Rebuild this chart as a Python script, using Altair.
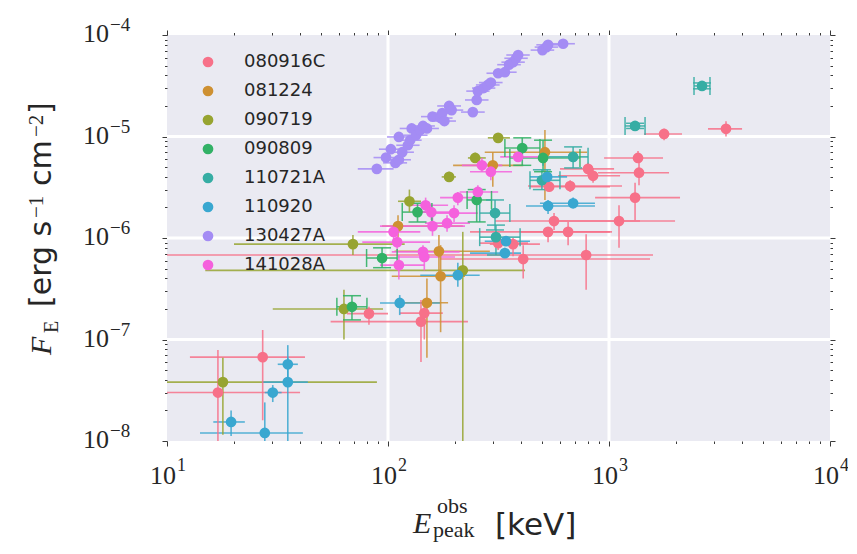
import altair as alt
import pandas as pd

series_names = ["080916C", "081224", "090719", "090809", "110721A", "110920", "130427A", "141028A"]
series_colors = ["#f77189", "#ce9032", "#97a431", "#32b166", "#36ada4", "#39a7d0", "#a48cf4", "#f561dd"]
capped_series = ["090809", "110721A"]

# (E_peak, E_lo, E_hi, F_E, F_lo, F_hi)  [keV], [erg s^-1 cm^-2]
grb_080916C = [
    (1775, 1441, 2140, 1.06e-5, 9.2e-6, 1.19e-5),
    (3384, 2805, 4000, 1.19e-5, 1.0e-5, 1.41e-5),
    (1353, 950, 1756, 6.15e-6, 5.5e-6, 7.2e-6),
    (1367, 892, 1869, 4.4e-6, 3.3e-6, 5.5e-6),
    (1312, 865, 2096, 2.5e-6, 1.5e-6, 3.5e-6),
    (1110, 588, 1990, 1.47e-6, 8.0e-7, 2.1e-6),
    (804, 600, 1054, 4.8e-6, 4.1e-6, 5.5e-6),
    (847, 588, 1122, 4.1e-6, 3.5e-6, 4.9e-6),
    (667, 430, 1145, 3.25e-6, 2.84e-6, 3.7e-6),
    (536, 439, 1010, 3.2e-6, 2.84e-6, 3.6e-6),
    (564, 305, 1381, 1.47e-6, 1.2e-6, 1.76e-6),
    (530, 235, 1010, 1.15e-6, 9.1e-7, 1.26e-6),
    (653, 396, 1032, 1.15e-6, 8.5e-7, 1.44e-6),
    (788, 9, 1582, 6.8e-7, 3.1e-7, 1.09e-6),
    (409, 172, 1533, 6.2e-7, 4.0e-7, 8.5e-7),
    (368, 289, 487, 8.7e-7, 6.6e-7, 1.0e-6),
    (315, 260, 430, 8.9e-7, 7.6e-7, 1.05e-6),
    (27.1, 12.7, 42.1, 6.7e-8, 1.6e-8, 1.24e-7),
    (17.0, 9, 40, 3.0e-8, 5e-9, 7.9e-8),
    (82, 65.2, 100, 1.8e-7, 1.4e-7, 2.1e-7),
    (141, 55, 230, 1.5e-7, 6.0e-8, 2.45e-7),
    (146, 113, 177, 1.82e-7, 1.0e-7, 2.29e-7),
]
grb_081224 = [
    (513, 274, 796, 7.0e-6, 2.37e-6, 1.16e-5),
    (298, 197, 409, 5.2e-6, 3.2e-6, 7.0e-6),
    (111, 94, 218, 1.31e-6, 9.5e-7, 1.68e-6),
    (170, 107, 289, 7.4e-7, 4.3e-7, 1.07e-6),
    (173, 104, 223, 4.2e-7, 1.18e-7, 8.5e-7),
    (150, 113, 187, 2.3e-7, 6.6e-8, 4.0e-7),
]
grb_090719 = [
    (315, 283, 356, 9.7e-6, 9.1e-6, 1.03e-5),
    (248, 230, 277, 6.15e-6, 5.5e-6, 6.9e-6),
    (189, 175, 203, 4.0e-6, 3.6e-6, 4.5e-6),
    (125, 111, 141, 2.3e-6, 1.8e-6, 3.0e-6),
    (69.4, 20.1, 119, 8.7e-7, 6.8e-7, 1.07e-6),
    (218, 14.9, 417, 4.8e-7, 5e-9, 1.15e-6),
    (63.2, 30.1, 94.9, 2.0e-7, 1.0e-7, 3.1e-7),
    (17.9, 8, 89.1, 3.8e-8, 1.15e-8, 6.6e-8),
]
grb_090809 = [
    (405, 338, 487, 7.7e-6, 5.2e-6, 9.7e-6),
    (503, 356, 739, 6.15e-6, 4.5e-6, 9.2e-6),
    (136, 116, 158, 1.8e-6, 1.44e-6, 2.2e-6),
    (252, 228, 294, 2.37e-6, 1.44e-6, 3.0e-6),
    (94, 80, 110, 6.35e-7, 5.1e-7, 8.0e-7),
    (68.7, 58.7, 80.3, 2.1e-7, 1.56e-7, 2.7e-7),
]
grb_110721A = [
    (2636, 2425, 2864, 3.15e-5, 2.95e-5, 3.37e-5),
    (1312, 1182, 1456, 1.27e-5, 1.2e-5, 1.35e-5),
    (688, 503, 804, 6.3e-6, 4.9e-6, 7.9e-6),
    (497, 439, 600, 3.7e-6, 3.0e-6, 4.7e-6),
    (305, 260, 356, 1.76e-6, 1.2e-6, 2.37e-6),
    (308, 260, 396, 1.02e-6, 6.8e-7, 1.34e-6),
]
grb_110920 = [
    (525, 439, 646, 4.0e-6, 3.2e-6, 4.7e-6),
    (530, 421, 864, 2.07e-6, 1.72e-6, 2.37e-6),
    (688, 487, 864, 2.2e-6, 1.95e-6, 2.5e-6),
    (342, 274, 439, 9.3e-7, 8.5e-7, 1.0e-6),
    (338, 235, 400, 7.1e-7, 6.4e-7, 8.0e-7),
    (113, 92, 172, 2.29e-7, 1.74e-7, 2.74e-7),
    (207, 140, 260, 4.3e-7, 3.3e-7, 5.7e-7),
    (35.2, 31.7, 39.1, 5.7e-8, 4.0e-8, 8.8e-8),
    (35.2, 26.9, 43.4, 3.8e-8, 5e-9, 6.6e-8),
    (30.1, 27.7, 33.0, 3.0e-8, 2.42e-8, 3.56e-8),
    (19.5, 16.2, 22.5, 1.54e-8, 1.12e-8, 2.0e-8),
    (27.7, 14.1, 41.2, 1.2e-8, 5e-9, 2.4e-8),
]
# (E_peak, E_lo, E_hi, F_E) - no visible flux error
grb_130427A = [
    (89, 73, 106, 4.8e-6), (98, 86, 111, 6.2e-6), (103, 91, 117, 7.5e-6),
    (108, 95, 122, 5.5e-6), (112, 99, 127, 5.9e-6), (116, 102, 131, 7.0e-6),
    (112, 99, 127, 9.9e-6), (123, 109, 139, 8.2e-6), (126, 111, 142, 9.2e-6),
    (128, 113, 145, 1.20e-5), (134, 118, 151, 1.03e-5), (140, 124, 158, 1.16e-5),
    (144, 127, 163, 1.27e-5), (150, 133, 170, 1.20e-5), (159, 141, 180, 1.57e-5),
    (173, 153, 196, 1.52e-5), (176, 156, 199, 1.70e-5), (180, 159, 203, 1.42e-5),
    (189, 167, 214, 2.0e-5), (194, 172, 219, 1.82e-5), (242, 214, 274, 1.74e-5),
    (252, 223, 285, 2.29e-5), (255, 226, 288, 2.8e-5), (271, 240, 306, 3.0e-5),
    (283, 250, 320, 3.22e-5), (292, 258, 330, 3.4e-5), (315, 279, 356, 4.2e-5),
    (338, 299, 382, 4.3e-5), (353, 312, 399, 5.1e-5), (368, 326, 416, 5.4e-5),
    (380, 336, 429, 5.9e-5), (388, 343, 438, 6.35e-5), (500, 442, 565, 7.1e-5),
    (521, 461, 589, 7.6e-5), (530, 469, 599, 8.0e-5), (620, 549, 701, 8.2e-5),
]
grb_141028A = [
    (388, 322, 477, 6.3e-6, 5.6e-6, 7.0e-6),
    (266, 216, 329, 5.2e-6, 4.5e-6, 6.15e-6),
    (292, 235, 364, 4.5e-6, 3.7e-6, 5.2e-6),
    (255, 211, 315, 2.84e-6, 2.4e-6, 3.3e-6),
    (207, 172, 260, 2.5e-6, 2.1e-6, 2.84e-6),
    (148, 123, 187, 2.1e-6, 1.8e-6, 2.5e-6),
    (157, 133, 201, 1.8e-6, 1.5e-6, 2.1e-6),
    (199, 155, 255, 1.76e-6, 1.44e-6, 2.1e-6),
    (185, 147, 235, 1.4e-6, 1.15e-6, 1.68e-6),
    (159, 92, 223, 1.31e-6, 1.05e-6, 1.6e-6),
    (106, 73, 140, 1.15e-6, 9.5e-7, 1.34e-6),
    (110, 76.5, 155, 9.1e-7, 7.3e-7, 1.15e-6),
    (144, 104, 211, 7.3e-7, 6.1e-7, 8.5e-7),
    (146, 111, 201, 6.5e-7, 4.8e-7, 8.0e-7),
    (112, 92, 146, 5.4e-7, 3.9e-7, 6.8e-7),
]

x_label_vals = [10, 100, 1000, 10000]
x_label_exps = ["1", "2", "3", "4"]
y_label_vals = [1e-8, 1e-7, 1e-6, 1e-5, 1e-4]
y_label_exps = ["\u22128", "\u22127", "\u22126", "\u22125", "\u22124"]

all_series = [grb_080916C, grb_081224, grb_090719, grb_090809,
              grb_110721A, grb_110920, grb_130427A, grb_141028A]
rows = []
for name, pts in zip(series_names, all_series):
    for p in pts:
        e, elo, ehi, f = p[:4]
        flo, fhi = (p[4], p[5]) if len(p) == 6 else (f, f)
        rows.append(dict(grb=name, E=e, Elo=elo, Ehi=ehi, F=f, Flo=flo, Fhi=fhi))
df = pd.DataFrame(rows)
capdf = df[df["grb"].isin(capped_series)]

W, H = 663, 406
SERIF = "Liberation Serif"
SANS = "DejaVu Sans"
TXT = "#262626"

xs = alt.Scale(type="log", domain=[10, 10000], nice=False)
ys = alt.Scale(type="log", domain=[1e-8, 1e-4], nice=False)
cscale = alt.Scale(domain=series_names, range=series_colors)

x_tick_vals = [m * 10 ** k for k in (1, 2, 3) for m in range(1, 10)] + [10000]
y_tick_vals = [m * 10.0 ** k for k in (-8, -7, -6, -5) for m in range(1, 10)] + [1e-4]
major_test = "abs(log(datum.value)/LN10 - round(log(datum.value)/LN10)) < 0.01"
tick_cond = {"condition": {"test": major_test, "value": 5}, "value": 2.5}


def mk_axis(orient, vals):
    return alt.Axis(orient=orient, values=vals, labels=False, grid=False, domain=False,
                    ticks=True, tickSize=tick_cond, tickColor="#3a3a3a", tickWidth=1,
                    title=None)


col_nolegend = alt.Color("grb:N", scale=cscale, legend=None)

vgrid = alt.Chart(pd.DataFrame({"v": [100, 1000]})).mark_rule(
    color="white", strokeWidth=3).encode(
    x=alt.X("v:Q", scale=xs, axis=mk_axis("top", x_tick_vals)))
hgrid = alt.Chart(pd.DataFrame({"v": [1e-7, 1e-6, 1e-5]})).mark_rule(
    color="white", strokeWidth=3).encode(
    y=alt.Y("v:Q", scale=ys, axis=mk_axis("right", y_tick_vals)))

base = alt.Chart(df)
hbars = base.mark_rule(clip=True, strokeWidth=1.6, opacity=0.85).encode(
    x=alt.X("Elo:Q", scale=xs, axis=None), x2="Ehi:Q",
    y=alt.Y("F:Q", scale=ys, axis=None), color=col_nolegend)
vbars = base.mark_rule(clip=True, strokeWidth=1.6, opacity=0.85).encode(
    x=alt.X("E:Q", scale=xs, axis=None),
    y=alt.Y("Flo:Q", scale=ys, axis=None), y2="Fhi:Q", color=col_nolegend)

capbase = alt.Chart(capdf)
capL = capbase.mark_tick(orient="vertical", size=18, thickness=1.5, clip=True, opacity=0.9).encode(
    x=alt.X("Elo:Q", scale=xs, axis=None), y=alt.Y("F:Q", scale=ys, axis=None), color=col_nolegend)
capR = capbase.mark_tick(orient="vertical", size=18, thickness=1.5, clip=True, opacity=0.9).encode(
    x=alt.X("Ehi:Q", scale=xs, axis=None), y=alt.Y("F:Q", scale=ys, axis=None), color=col_nolegend)
capB = capbase.mark_tick(orient="horizontal", size=18, thickness=1.5, clip=True, opacity=0.9).encode(
    x=alt.X("E:Q", scale=xs, axis=None), y=alt.Y("Flo:Q", scale=ys, axis=None), color=col_nolegend)
capT = capbase.mark_tick(orient="horizontal", size=18, thickness=1.5, clip=True, opacity=0.9).encode(
    x=alt.X("E:Q", scale=xs, axis=None), y=alt.Y("Fhi:Q", scale=ys, axis=None), color=col_nolegend)

points = base.mark_circle(size=115, opacity=1).encode(
    x=alt.X("E:Q", scale=xs, axis=mk_axis("bottom", x_tick_vals)),
    y=alt.Y("F:Q", scale=ys, axis=mk_axis("left", y_tick_vals)),
    color=alt.Color("grb:N", scale=cscale, legend=alt.Legend(
        title=None, orient="none", legendX=32, legendY=18, symbolType="circle",
        symbolSize=115, symbolStrokeWidth=0, symbolOpacity=1, labelFont=SANS,
        labelFontSize=18, labelColor=TXT, rowPadding=11, labelOffset=27, padding=0)))

xt = pd.DataFrame({"v": x_label_vals, "exp": x_label_exps})
yt = pd.DataFrame({"v": y_label_vals, "exp": y_label_exps})
x10 = alt.Chart(xt).mark_text(text="10", font=SERIF, fontSize=26, align="right",
                              baseline="alphabetic", dx=9, color=TXT).encode(
    x=alt.X("v:Q", scale=xs, axis=None), y=alt.value(H + 43))
xexp = alt.Chart(xt).mark_text(font=SERIF, fontSize=18, align="left",
                               baseline="alphabetic", dx=10, color=TXT).encode(
    x=alt.X("v:Q", scale=xs, axis=None), y=alt.value(H + 30), text="exp:N")
y10 = alt.Chart(yt).mark_text(text="10", font=SERIF, fontSize=26, align="right",
                              baseline="alphabetic", dy=7, color=TXT).encode(
    y=alt.Y("v:Q", scale=ys, axis=None), x=alt.value(-58))
yexp = alt.Chart(yt).mark_text(font=SERIF, fontSize=19, align="left",
                               baseline="alphabetic", dy=-4, color=TXT).encode(
    y=alt.Y("v:Q", scale=ys, axis=None), x=alt.value(-57), text="exp:N")

one_row = pd.DataFrame({"k": [0]})


def txt(s, x, y, size, font, style="normal", angle=0):
    return alt.Chart(one_row).mark_text(
        text=s, font=font, fontSize=size, fontStyle=style, angle=angle,
        align="left", baseline="alphabetic", color=TXT).encode(
        x=alt.value(x), y=alt.value(y))


titles = [
    # x-axis title: E_peak^obs [keV]
    txt("E", 246, 498, 30, SERIF, "italic"),
    txt("obs", 270, 478, 22, SERIF),
    txt("peak", 266, 502, 22, SERIF),
    txt("[keV]", 328, 500, 31, SANS),
    # y-axis title: F_E [erg s^-1 cm^-2]
    txt("F", -116, 320, 30, SERIF, "italic", 270),
    txt("E", -109, 298, 20, SERIF, "normal", 270),
    txt("[erg s", -116, 272, 30, SANS, "normal", 270),
    txt("\u22121", -124, 183, 21, SERIF, "normal", 270),
    txt("cm", -116, 151, 30, SANS, "normal", 270),
    txt("\u22122", -124, 102, 21, SERIF, "normal", 270),
    txt("]", -116, 79, 30, SANS, "normal", 270),
]

chart = alt.layer(
    vgrid, hgrid, hbars, vbars, capL, capR, capB, capT, points,
    x10, xexp, y10, yexp, *titles
).resolve_axis(
    x="independent", y="independent"
).resolve_legend(
    color="independent"
).properties(
    width=W, height=H,
    autosize=alt.AutoSizeParams(type="none"),
    padding={"left": 159, "top": 27, "right": 18, "bottom": 105},
    background="white",
).configure_view(fill="#eaeaf2", stroke=None)

chart.save("out.html", embed_options={"renderer": "svg", "actions": False})
